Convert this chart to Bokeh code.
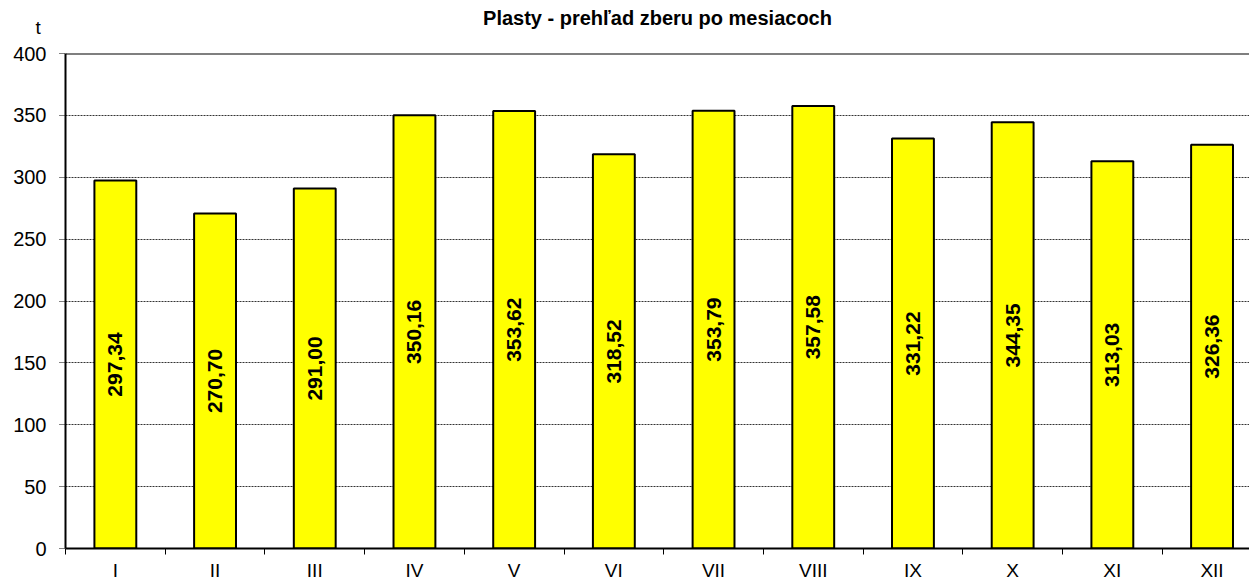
import math
from bokeh.plotting import figure
from bokeh.models import ColumnDataSource, FixedTicker, Span, Title, Range1d
from bokeh.core.properties import value
from bokeh.embed import file_html
from bokeh.resources import INLINE

months = ["I", "II", "III", "IV", "V", "VI", "VII", "VIII", "IX", "X", "XI", "XII"]
tons = [297.34, 270.70, 291.00, 350.16, 353.62, 318.52, 353.79, 357.58, 331.22, 344.35, 313.03, 326.36]
y_ticks = [0, 50, 100, 150, 200, 250, 300, 350, 400]
title_text = "Plasty - prehľad zberu po mesiacoch"
unit_text = "t"

FONT = "Liberation Sans"

xs = [i + 0.5 for i in range(len(months))]
src = ColumnDataSource(dict(
    x=xs,
    top=tons,
    mid=[v / 2 for v in tons],
    lab=[f"{v:.2f}".replace(".", ",") for v in tons],
))

W, H = 1249, 583
left_border = 65
top_border = 53
bottom_border = 33
px_per_cat = 99.7
x_end = (W - left_border) / px_per_cat

p = figure(width=W, height=H, output_backend="svg", toolbar_location=None, title=None,
           x_range=Range1d(0, x_end), y_range=Range1d(0, 400),
           min_border_left=left_border, min_border_top=top_border,
           min_border_bottom=bottom_border, min_border_right=0)
p.outline_line_color = None
p.background_fill_color = "white"
p.border_fill_color = "white"

p.vbar(x="x", top="top", width=0.42, bottom=0, source=src,
       fill_color="#FFFF00", line_color="black", line_width=2)

p.text(x="x", y="mid", text="lab", source=src, angle=math.pi / 2,
       text_align="center", text_baseline="middle",
       text_font=value(FONT), text_font_style="bold", text_font_size="21px",
       text_color="black")

# axes
p.yaxis.ticker = FixedTicker(ticks=y_ticks)
p.yaxis.axis_line_width = 2
p.yaxis.axis_line_color = "black"
p.yaxis.major_tick_out = 6
p.yaxis.major_tick_in = 0
p.yaxis.major_tick_line_color = "black"
p.yaxis.major_tick_line_dash = "1 1"
p.yaxis.minor_tick_line_color = None
p.yaxis.major_label_standoff = 13
p.yaxis.major_label_text_font = FONT
p.yaxis.major_label_text_font_size = "20px"
p.yaxis.major_label_text_color = "black"

p.xaxis.ticker = FixedTicker(ticks=xs, minor_ticks=list(range(len(months) + 1)))
p.xaxis.major_label_overrides = {x: m for x, m in zip(xs, months)}
p.xaxis.axis_line_width = 2
p.xaxis.axis_line_color = "black"
p.xaxis.major_tick_out = 0
p.xaxis.major_tick_in = 0
p.xaxis.minor_tick_out = 6
p.xaxis.minor_tick_in = 0
p.xaxis.minor_tick_line_color = "black"
p.xaxis.major_label_standoff = 5
p.xaxis.major_label_text_font = FONT
p.xaxis.major_label_text_font_size = "19px"
p.xaxis.major_label_text_color = "black"

p.xgrid.grid_line_color = None
p.ygrid.ticker = FixedTicker(ticks=y_ticks)
p.ygrid.grid_line_color = "#333333"
p.ygrid.grid_line_dash = "2 1"
p.ygrid.grid_line_width = 1
p.ygrid.level = "underlay"

p.add_layout(Span(location=400, dimension="width", line_color="black", line_width=2))

# unit label (inner title row, top-aligned) and main title (outer row pulled down)
p.add_layout(Title(text=unit_text, align="left", offset=-30, standoff=28,
                   vertical_align="top",
                   text_font=FONT, text_font_size="19px", text_font_style="normal",
                   text_color="black"), "above")
p.add_layout(Title(text=title_text, align="center", standoff=-52,
                   vertical_align="bottom",
                   text_font=FONT, text_font_size="20px", text_font_style="bold",
                   text_color="black"), "above")

open("out.html", "w").write(file_html(p, INLINE))
